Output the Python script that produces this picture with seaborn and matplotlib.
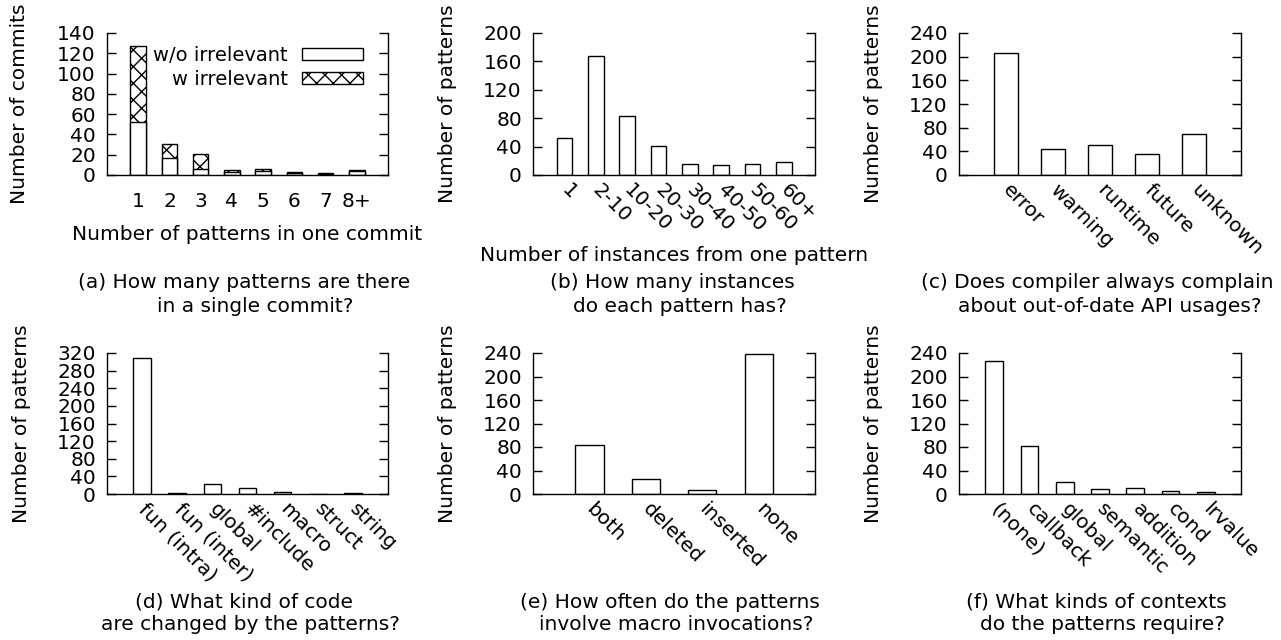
import matplotlib
matplotlib.use("Agg")
import matplotlib.pyplot as plt
import seaborn as sns
from matplotlib.patches import Patch

# ---------------- data ----------------
a_categories = ["1", "2", "3", "4", "5", "6", "7", "8+"]
a_without = [52, 17, 6, 3, 4, 2, 1, 4]
a_with = [75, 14, 15, 2, 2, 1, 1, 1]

b_categories = ["1", "2-10", "10-20", "20-30", "30-40", "40-50", "50-60", "60+"]
b_values = [52, 168, 83, 41, 15, 14, 16, 19]

c_categories = ["error", "warning", "runtime", "future", "unknown"]
c_values = [207, 44, 51, 35, 70]

d_categories = ["fun (intra)", "fun (inter)", "global", "#include", "macro", "struct", "string"]
d_values = [309, 3, 22, 14, 4, 1, 2]

e_categories = ["both", "deleted", "inserted", "none"]
e_values = [84, 26, 7, 238]

f_categories = ["(none)", "callback", "global", "semantic", "addition", "cond", "lrvalue"]
f_values = [226, 81, 20, 8, 10, 5, 4]

# ---------------- style ----------------
sns.set_style("white")
plt.rcParams["font.family"] = ["DejaVu Sans"]
plt.rcParams["hatch.linewidth"] = 1.0
for k in ["text.color", "axes.labelcolor", "xtick.color", "ytick.color"]:
    plt.rcParams[k] = "black"
FS = 14.5

W, H = 1281, 640
fig = plt.figure(figsize=(W / 100, H / 100), dpi=100)


def make_axes(x0, x1, y0, y1):
    return fig.add_axes([x0 / W, 1 - y1 / H, (x1 - x0) / W, (y1 - y0) / H])


def style_axes(ax, n, ymax, ystep, rotate=True):
    ax.set_xlim(-1, n)
    ax.set_ylim(0, ymax)
    ax.set_yticks(list(range(0, ymax + 1, ystep)))
    for s in ["left", "right", "bottom"]:
        ax.spines[s].set_visible(True)
        ax.spines[s].set_linewidth(1.0)
        ax.spines[s].set_color("black")
    ax.spines["top"].set_visible(False)
    ax.tick_params(axis="y", which="both", direction="in", length=6.5, width=1.0,
                   left=True, right=True, labelleft=True, labelright=False,
                   labelsize=FS, pad=8, colors="black")
    ax.tick_params(axis="x", length=0, labelsize=FS, colors="black",
                   pad=(12 if not rotate else 9))
    ax.set_ylabel("Number of patterns", fontsize=FS, color="black")
    ax.yaxis.set_label_coords(-0.27, 0.5)
    if rotate:
        for lab in ax.get_xticklabels():
            lab.set_rotation(-45)
            lab.set_ha("left")
            lab.set_va("center")
            lab.set_rotation_mode("anchor")
    ax.grid(False)


def simple_bars(ax, cats, vals):
    sns.barplot(x=cats, y=vals, order=cats, ax=ax, color="white", saturation=1,
                edgecolor="black", linewidth=1.0, width=0.5)


# column and row pixel extents
cols = [(107, 388), (533, 815), (959, 1241)]
rows = [(33, 175), (353, 494)]

# ---- (a) stacked ----
ax_a = make_axes(*cols[0], *rows[0])
a_total = [w0 + w1 for w0, w1 in zip(a_without, a_with)]
sns.barplot(x=a_categories, y=a_total, order=a_categories, ax=ax_a, color="white",
            saturation=1, edgecolor="black", linewidth=1.0, width=0.5, hatch="xx")
sns.barplot(x=a_categories, y=a_without, order=a_categories, ax=ax_a, color="white",
            saturation=1, edgecolor="black", linewidth=1.0, width=0.5)
style_axes(ax_a, len(a_categories), 140, 20, rotate=False)
ax_a.set_ylabel("Number of commits", fontsize=FS, color="black")
ax_a.yaxis.set_label_coords(-0.278, 0.5)
ax_a.set_xlabel("Number of patterns in one commit", fontsize=FS, color="black")
ax_a.xaxis.set_label_coords(0.5, -0.35)
handles = [Patch(facecolor="white", edgecolor="black", linewidth=1.0, label="w/o irrelevant"),
           Patch(facecolor="white", edgecolor="black", linewidth=1.0, hatch="xx", label="w irrelevant")]
ax_a.legend(handles=handles, loc="upper right", bbox_to_anchor=(0.937, 0.965), frameon=False,
            markerfirst=False, fontsize=14, handlelength=3.1, handleheight=0.57,
            labelspacing=0.28, handletextpad=0.75, borderaxespad=0)

# ---- (b) ----
ax_b = make_axes(*cols[1], *rows[0])
simple_bars(ax_b, b_categories, b_values)
style_axes(ax_b, len(b_categories), 200, 40)
ax_b.set_xlabel("Number of instances from one pattern", fontsize=FS, color="black")
ax_b.xaxis.set_label_coords(0.5, -0.5)

# ---- (c) ----
ax_c = make_axes(*cols[2], *rows[0])
simple_bars(ax_c, c_categories, c_values)
style_axes(ax_c, len(c_categories), 240, 40)

# ---- (d) ----
ax_d = make_axes(*cols[0], *rows[1])
simple_bars(ax_d, d_categories, d_values)
style_axes(ax_d, len(d_categories), 320, 40)

# ---- (e) ----
ax_e = make_axes(*cols[1], *rows[1])
simple_bars(ax_e, e_categories, e_values)
style_axes(ax_e, len(e_categories), 240, 40)

# ---- (f) ----
ax_f = make_axes(*cols[2], *rows[1])
simple_bars(ax_f, f_categories, f_values)
style_axes(ax_f, len(f_categories), 240, 40)

# ---- captions ----
captions = [
    ((244, 283), "(a) How many patterns are there"), ((255, 307), "in a single commit?"),
    ((672, 283), "(b) How many instances"), ((680, 307), "do each pattern has?"),
    ((1097, 283), "(c) Does compiler always complain"), ((1110, 307), "about out-of-date API usages?"),
    ((244, 602), "(d) What kind of code"), ((250, 625), "are changed by the patterns?"),
    ((670, 602), "(e) How often do the patterns"), ((676, 625), "involve macro invocations?"),
    ((1096, 602), "(f) What kinds of contexts"), ((1102, 625), "do the patterns require?"),
]
for (x, y), t in captions:
    fig.text(x / W, 1 - y / H, t, ha="center", va="center", fontsize=FS, color="black")

fig.savefig("out.png", dpi=100)
